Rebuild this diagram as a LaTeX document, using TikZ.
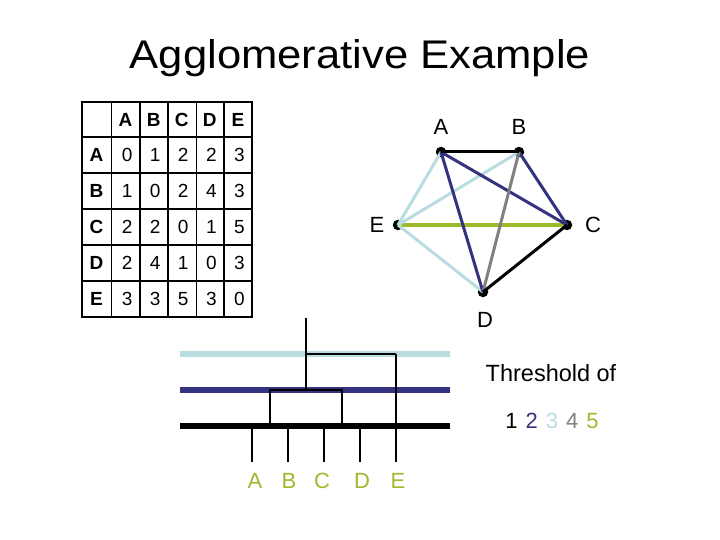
\documentclass[tikz,border=0pt]{standalone}
\usepackage{fontspec}
\setmainfont{Liberation Sans}
\definecolor{lb}{HTML}{B8DCE0}
\definecolor{nv}{HTML}{33337F}
\definecolor{gr}{HTML}{808080}
\definecolor{yg}{HTML}{9CBA2C}
\begin{document}
\begin{tikzpicture}[x=1pt,y=-1pt,
  cell/.style={inner sep=0pt, font=\fontsize{19}{19}\selectfont},
  hcell/.style={inner sep=0pt, font=\fontsize{19}{19}\selectfont\bfseries},
  dot/.style={circle, fill=black, inner sep=0pt, minimum size=10.5pt},
  lab/.style={inner sep=0pt, font=\fontsize{22}{22}\selectfont},
  edge/.style={line width=3pt},
  thr/.style={line width=5.5pt},
  den/.style={line width=2pt},
  leaflab/.style={inner sep=0pt, text=yg, font=\fontsize{22}{22}\selectfont}]
\useasboundingbox (0,0) rectangle (720,540);
% title
\node[anchor=base, inner sep=0pt, font=\fontsize{40}{40}\selectfont] (title) at (360,69) {\scalebox{1.09}[1]{Agglomerative Example}};
% table grid
\draw[line width=2.2pt] (82,102) rectangle (252,317);
\foreach \x in {111.5,140,168,196.5,223.8} \draw[line width=1.9pt] (\x,102) -- (\x,317);
\foreach \y in {137,173,209,245,281} \draw[line width=1.9pt] (82,\y) -- (252,\y);
% header
\foreach \t [count=\i] in {A,B,C,D,E} {
  \node[hcell] (h\i) at ({111.5+28.1*(\i-0.5)},119.5) {\t};
  \node[hcell] (r\i) at (96.5,{137+36*(\i-0.5)}) {\t};
}
\foreach \row [count=\j] in {{0,1,2,2,3},{1,0,2,4,3},{2,2,0,1,5},{2,4,1,0,3},{3,3,5,3,0}} {
  \foreach \v [count=\i] in \row {
    \node[cell] (c\j\i) at ({113+28.1*(\i-0.5)},{137+36*(\j-0.5)}) {\v};
  }
}
% graph
\coordinate (A) at (441,152);
\coordinate (B) at (519,152);
\coordinate (C) at (567,225);
\coordinate (D) at (483,292);
\coordinate (E) at (398,225);
\node[dot] (dA) at (A) {};
\node[dot] (dB) at (B) {};
\node[dot] (dC) at (C) {};
\node[dot] (dD) at (D) {};
\node[dot] (dE) at (E) {};
\draw[edge, yg, line width=3.5pt] (dE.center) -- (dC.center);
\draw[edge, lb] (dA.center) -- (dE.center);
\draw[edge, lb] (dB.center) -- (dE.center);
\draw[edge, lb] (dE.center) -- (dD.center);
\draw[edge, nv] (dA.center) -- (dD.center);
\draw[edge, nv] (dA.center) -- (dC.center);
\draw[edge, nv] (dB.center) -- (dC.center);
\draw[edge, gr] (dB.center) -- (dD.center);
\draw[edge, black] (dA.center) -- (dB.center);
\draw[edge, black] (dD.center) -- (dC.center);
\node[lab] (lA) at (441,127) {A};
\node[lab] (lB) at (519,127) {B};
\node[lab] (lE) at (377,225) {E};
\node[lab] (lC) at (593,225) {C};
\node[lab] (lD) at (485,320) {D};
% thresholds text
\node[lab, font=\fontsize{23.5}{23.5}\selectfont] (thr) at (551,373) {Threshold of};
\node[lab] (nums) at (552,421) {1\hspace{8pt}\textcolor{nv}{2}\hspace{8pt}\textcolor{lb}{3}\hspace{8pt}\textcolor{gr}{4}\hspace{8pt}\textcolor{yg}{5}};
% threshold lines
\coordinate (t3l) at (180,354); \coordinate (t3r) at (450,354);
\coordinate (t2l) at (180,390); \coordinate (t2r) at (450,390);
\coordinate (t1l) at (180,426); \coordinate (t1r) at (450,426);
\draw[thr, lb] (t3l) -- (t3r);
\draw[thr, nv] (t2l) -- (t2r);
\draw[thr, black, line width=6pt] (t1l) -- (t1r);
% dendrogram
\foreach \n/\x in {a/252,b/288,c/324,d/360} {
  \coordinate (top\n) at (\x,426);
  \coordinate (leaf\n) at (\x,462);
  \draw[den] (top\n) -- (leaf\n);
}
\coordinate (tope) at (396,354);
\coordinate (leafe) at (396,462);
\draw[den] (tope) -- (leafe);
\coordinate (root) at (306,318);
\coordinate (j2) at (306,390);
\coordinate (j3) at (306,354);
\draw[den] (root) -- (j2);
\draw[den] (j3) -- (tope);
\draw[den] (270,426) -- (270,390) -- (342,390) -- (342,426);
\node[leaflab] (LA) at (255,481) {A};
\node[leaflab] (LB) at (289,481) {B};
\node[leaflab] (LC) at (322,481) {C};
\node[leaflab] (LD) at (362,481) {D};
\node[leaflab] (LE) at (398,481) {E};
\end{tikzpicture}
\end{document}
